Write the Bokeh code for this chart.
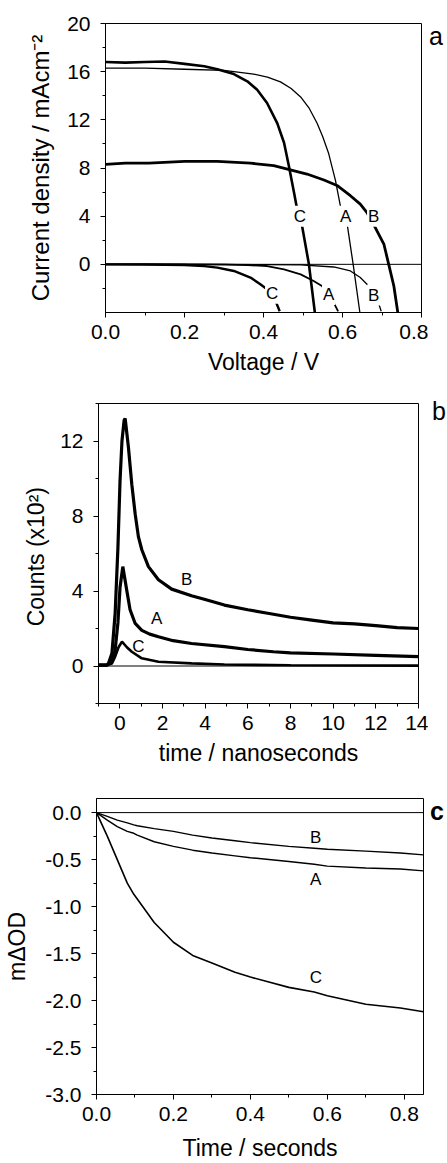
from bokeh.plotting import figure
from bokeh.layouts import column, row
from bokeh.models import FixedTicker, PrintfTickFormatter, Span, Label, Range1d, Div
from bokeh.embed import file_html
from bokeh.resources import INLINE

FONT = "Liberation Sans"

# ---------------- Panel a: J-V curves ----------------
a_light_A_v = [0.0, 0.1, 0.2, 0.3, 0.325, 0.375, 0.41, 0.443, 0.47, 0.494, 0.515, 0.536, 0.55, 0.565, 0.582, 0.595, 0.612, 0.627, 0.644]
a_light_A_j = [16.3, 16.3, 16.2, 16.1, 16.0, 15.8, 15.55, 15.15, 14.6, 13.9, 13.0, 11.7, 10.6, 9.2, 7.0, 4.8, 3.3, 0.0, -4.0]
a_light_C_v = [0.0, 0.05, 0.1, 0.15, 0.2, 0.25, 0.283, 0.325, 0.359, 0.384, 0.409, 0.435, 0.452, 0.464, 0.477, 0.485, 0.497, 0.515, 0.53]
a_light_C_j = [16.8, 16.75, 16.8, 16.85, 16.65, 16.45, 16.2, 15.8, 15.2, 14.5, 13.4, 11.7, 10.1, 8.2, 6.0, 4.6, 3.3, 0.0, -4.0]
a_light_B_v = [0.0, 0.05, 0.11, 0.2, 0.283, 0.367, 0.426, 0.468, 0.51, 0.553, 0.586, 0.62, 0.645, 0.662, 0.679, 0.705, 0.717, 0.73, 0.74]
a_light_B_j = [8.3, 8.4, 8.4, 8.55, 8.55, 8.4, 8.2, 7.85, 7.5, 7.0, 6.55, 5.7, 5.0, 4.3, 3.3, 1.65, 0.0, -1.8, -4.0]
a_dark_C_v = [0.0, 0.1, 0.2, 0.25, 0.283, 0.325, 0.367, 0.392, 0.409, 0.43, 0.441]
a_dark_C_j = [0.0, -0.01, -0.05, -0.15, -0.27, -0.55, -1.1, -1.65, -2.07, -3.0, -3.9]
a_dark_A_v = [0.0, 0.2, 0.3, 0.36, 0.409, 0.452, 0.494, 0.527, 0.548, 0.578, 0.589]
a_dark_A_j = [0.0, -0.01, -0.03, -0.07, -0.14, -0.41, -0.83, -1.38, -1.8, -3.2, -3.9]
a_dark_B_v = [0.0, 0.3, 0.4, 0.494, 0.578, 0.62, 0.645, 0.662, 0.692, 0.698]
a_dark_B_j = [0.0, -0.01, -0.02, -0.05, -0.22, -0.55, -1.1, -1.65, -3.3, -3.9]
a_labels = ["C", "A", "B", "C", "A", "B"]
a_label_v = [0.492, 0.608, 0.679, 0.422, 0.565, 0.679]
a_label_j = [4.0, 4.0, 4.0, -2.4, -2.5, -2.55]
a_xticks = [0.0, 0.2, 0.4, 0.6, 0.8]
a_yticks = [0, 4, 8, 12, 16, 20]

# ---------------- Panel b: fluorescence decays ----------------
b_B_t = [-1.0, -0.6, -0.53, -0.37, -0.22, -0.09, 0.01, 0.1, 0.2, 0.25, 0.4, 0.56, 0.72, 0.87, 1.03, 1.34, 1.81, 2.43, 3.36, 4.0, 4.9, 6.0, 7.0, 8.0, 9.0, 10.0, 11.0, 12.0, 13.0, 14.0]
b_B_c = [0.05, 0.05, 0.15, 0.68, 2.8, 6.3, 9.9, 12.0, 13.1, 13.2, 11.7, 9.7, 8.1, 6.9, 6.2, 5.3, 4.6, 4.1, 3.75, 3.55, 3.25, 3.0, 2.8, 2.6, 2.45, 2.3, 2.25, 2.15, 2.05, 2.0]
b_A_t = [-1.0, -0.6, -0.37, -0.22, -0.09, 0.01, 0.14, 0.33, 0.48, 0.72, 1.03, 1.4, 1.81, 2.5, 3.36, 4.9, 6.0, 7.2, 8.0, 10.0, 12.0, 14.0]
b_A_c = [0.05, 0.05, 0.23, 0.85, 2.3, 4.2, 5.3, 4.0, 3.0, 2.27, 1.9, 1.7, 1.56, 1.35, 1.2, 1.03, 0.88, 0.76, 0.7, 0.64, 0.57, 0.5]
b_C_t = [-1.0, -0.6, -0.37, -0.22, -0.06, 0.1, 0.33, 0.56, 1.03, 1.81, 3.36, 4.9, 8.0, 11.0, 14.0]
b_C_c = [0.05, 0.05, 0.13, 0.5, 1.0, 1.3, 1.0, 0.76, 0.41, 0.23, 0.14, 0.08, 0.04, 0.03, 0.02]
b_labels = ["B", "A", "C"]
b_label_t = [3.13, 1.73, 0.87]
b_label_c = [4.6, 2.55, 1.03]
b_xticks = [0, 2, 4, 6, 8, 10, 12, 14]
b_yticks = [0, 4, 8, 12]

# ---------------- Panel c: transient absorption ----------------
c_t = [0.0, 0.028, 0.054, 0.08, 0.097, 0.106, 0.15, 0.2, 0.25, 0.3, 0.36, 0.4, 0.5, 0.566, 0.6, 0.7, 0.79, 0.85]
c_B = [0.0, -0.04, -0.08, -0.11, -0.13, -0.14, -0.17, -0.2, -0.24, -0.27, -0.3, -0.32, -0.36, -0.38, -0.39, -0.41, -0.43, -0.45]
c_A = [0.0, -0.08, -0.15, -0.2, -0.22, -0.24, -0.31, -0.36, -0.4, -0.43, -0.46, -0.48, -0.52, -0.55, -0.57, -0.59, -0.60, -0.62]
c_C = [0.0, -0.25, -0.5, -0.75, -0.87, -0.92, -1.17, -1.38, -1.52, -1.6, -1.70, -1.75, -1.86, -1.91, -1.95, -2.04, -2.08, -2.12]
c_labels = ["B", "A", "C"]
c_label_t = [0.57, 0.57, 0.57]
c_label_y = [-0.27, -0.71, -1.75]
c_xticks = [0.0, 0.2, 0.4, 0.6, 0.8]
c_yticks = [0.0, -0.5, -1.0, -1.5, -2.0, -2.5, -3.0]

FIG_W = 428
LETTER_W = 447 - FIG_W


def make_fig(h, xr, yr, left, right, top, bottom):
    p = figure(width=FIG_W, height=h, x_range=Range1d(*xr), y_range=Range1d(*yr),
               output_backend="svg", toolbar_location=None,
               min_border_left=left, min_border_right=right,
               min_border_top=top, min_border_bottom=bottom)
    p.xgrid.grid_line_color = None
    p.ygrid.grid_line_color = None
    p.outline_line_color = "black"
    p.outline_line_width = 1
    p.outline_line_alpha = 1
    p.background_fill_color = "white"
    p.border_fill_color = "white"
    for ax in (p.xaxis[0], p.yaxis[0]):
        ax.axis_line_color = "black"
        ax.major_tick_line_color = "black"
        ax.minor_tick_line_color = "black"
        ax.major_tick_in = 0
        ax.major_tick_out = 5
        ax.minor_tick_in = 0
        ax.minor_tick_out = 3
        ax.major_label_text_font = FONT
        ax.major_label_text_font_size = "21px"
        ax.major_label_text_color = "black"
        ax.axis_label_text_font = FONT
        ax.axis_label_text_font_size = "23px"
        ax.axis_label_text_font_style = "normal"
        ax.axis_label_text_color = "black"
    p.xaxis[0].major_label_standoff = 7
    p.xaxis[0].axis_label_standoff = 7
    p.yaxis[0].major_label_standoff = 10
    p.add_layout(Span(location=0, dimension="width", line_color="black", line_width=1))
    return p


def letter(t, h, top, left, weight="normal"):
    html = ('<div style="margin-top:%dpx;margin-left:%dpx;font-family:\'Liberation Sans\',Arial,sans-serif;'
            'font-size:25px;line-height:1;font-weight:%s;color:black">%s</div>' % (top, left, weight, t))
    return Div(text=html, width=LETTER_W, height=h, margin=0)


# Panel a
pa = make_fig(385, (0.0, 0.8), (-4.0, 20.0), 105, FIG_W - 421, 23, 73)
pa.xaxis[0].ticker = FixedTicker(ticks=a_xticks, minor_ticks=[0.1, 0.3, 0.5, 0.7])
pa.xaxis[0].formatter = PrintfTickFormatter(format="%.1f")
pa.yaxis[0].ticker = FixedTicker(ticks=a_yticks, minor_ticks=[-2, 2, 6, 10, 14, 18])
pa.xaxis[0].axis_label = "Voltage / V"
pa.yaxis[0].axis_label = "Current density / mAcm\u207b\u00b2"
pa.yaxis[0].axis_label_standoff = 10
pa.yaxis[0].axis_label_text_font_size = "24px"
pa.line(a_light_A_v, a_light_A_j, line_color="black", line_width=1.3)
pa.line(a_light_C_v, a_light_C_j, line_color="black", line_width=2.6)
pa.line(a_light_B_v, a_light_B_j, line_color="black", line_width=2.8)
pa.line(a_dark_C_v, a_dark_C_j, line_color="black", line_width=2.4)
pa.line(a_dark_A_v, a_dark_A_j, line_color="black", line_width=1.8)
pa.line(a_dark_B_v, a_dark_B_j, line_color="black", line_width=1.3)
for t, x, y in zip(a_labels, a_label_v, a_label_j):
    pa.add_layout(Label(x=x, y=y, text=t, text_font=FONT, text_font_size="17px",
                        text_align="center", text_baseline="middle", text_color="black",
                        background_fill_color="white", padding=1))

# Panel b
pb = make_fig(400, (-1.0, 14.0), (-2.0, 14.0), 98, FIG_W - 418, 18, 82)
pb.xaxis[0].ticker = FixedTicker(ticks=b_xticks, minor_ticks=[-1, 1, 3, 5, 7, 9, 11, 13])
pb.yaxis[0].ticker = FixedTicker(ticks=b_yticks, minor_ticks=[-2, 2, 6, 10, 14])
pb.xaxis[0].axis_label = "time / nanoseconds"
pb.yaxis[0].axis_label = "Counts  (x10\u00b2)"
pb.yaxis[0].axis_label_standoff = 8
pb.line(b_B_t, b_B_c, line_color="black", line_width=3.2)
pb.line(b_A_t, b_A_c, line_color="black", line_width=3.2)
pb.line(b_C_t, b_C_c, line_color="black", line_width=2.6)
for t, x, y in zip(b_labels, b_label_t, b_label_c):
    pb.add_layout(Label(x=x, y=y, text=t, text_font=FONT, text_font_size="17px",
                        text_align="center", text_baseline="middle", text_color="black"))

# Panel c
pc = make_fig(378, (0.0, 0.85), (-3.0, 0.15), 96, FIG_W - 423, 13, 67)
pc.xaxis[0].ticker = FixedTicker(ticks=c_xticks, minor_ticks=[0.1, 0.3, 0.5, 0.7])
pc.xaxis[0].formatter = PrintfTickFormatter(format="%.1f")
pc.yaxis[0].ticker = FixedTicker(ticks=c_yticks, minor_ticks=[-0.25, -0.75, -1.25, -1.75, -2.25, -2.75])
pc.yaxis[0].formatter = PrintfTickFormatter(format="%.1f")
pc.xaxis[0].axis_label = "Time / seconds"
pc.xaxis[0].axis_label_standoff = 11
pc.yaxis[0].axis_label = "m\u0394OD"
pc.yaxis[0].axis_label_standoff = 12
pc.line(c_t, c_B, line_color="black", line_width=1.4)
pc.line(c_t, c_A, line_color="black", line_width=1.4)
pc.line(c_t, c_C, line_color="black", line_width=1.6)
for t, x, y in zip(c_labels, c_label_t, c_label_y):
    pc.add_layout(Label(x=x, y=y, text=t, text_font=FONT, text_font_size="17px",
                        text_align="center", text_baseline="middle", text_color="black"))

layout = column(
    row(pa, letter("a", 385, 24, 1), spacing=0),
    row(pb, letter("b", 400, 14, 4), spacing=0),
    row(pc, letter("c", 378, 14, 2, "bold"), spacing=0),
    spacing=0,
)
open("out.html", "w").write(file_html(layout, INLINE))
